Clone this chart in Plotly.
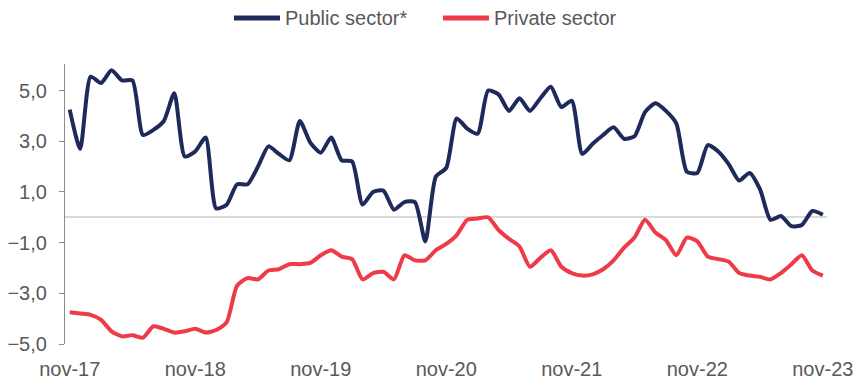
import plotly.graph_objects as go

# Monthly observations, nov-17 .. nov-23 (73 months)
month_index = list(range(73))
tick_positions = [0, 12, 24, 36, 48, 60, 72]
tick_labels = ["nov-17", "nov-18", "nov-19", "nov-20", "nov-21", "nov-22", "nov-23"]

public_sector = [
    4.25, 2.7, 5.55, 5.3, 5.8, 5.4, 5.4, 3.25, 3.45, 3.8,
    4.9, 2.4, 2.6, 3.15, 0.35, 0.5, 1.3, 1.3, 2.0, 2.8,
    2.5, 2.25, 3.8, 2.95, 2.55, 3.15, 2.25, 2.2, 0.5, 1.0,
    1.05, 0.3, 0.6, 0.6, -0.95, 1.6, 1.95, 3.9, 3.5, 3.3,
    5.0, 4.85, 4.2, 4.7, 4.2, 4.7, 5.15, 4.35, 4.6, 2.5,
    2.9, 3.25, 3.55, 3.1, 3.2, 4.15, 4.5, 4.2, 3.7, 1.8,
    1.75, 2.85, 2.6, 2.1, 1.45, 1.75, 1.1, -0.1, 0.05, -0.35,
    -0.3, 0.25, 0.1,
]

private_sector = [
    -3.75, -3.8, -3.85, -4.05, -4.5, -4.7, -4.65, -4.75, -4.3, -4.4,
    -4.55, -4.5, -4.4, -4.55, -4.45, -4.15, -2.7, -2.4, -2.45, -2.1,
    -2.05, -1.85, -1.85, -1.8, -1.5, -1.3, -1.55, -1.65, -2.45, -2.2,
    -2.15, -2.45, -1.5, -1.7, -1.7, -1.3, -1.05, -0.7, -0.1, -0.05,
    0.0, -0.5, -0.85, -1.15, -1.95, -1.6, -1.3, -1.95, -2.2, -2.3,
    -2.25, -2.05, -1.7, -1.2, -0.8, -0.1, -0.6, -0.9, -1.5, -0.8,
    -0.95, -1.55, -1.65, -1.75, -2.2, -2.3, -2.35, -2.45, -2.2, -1.85,
    -1.5, -2.1, -2.3,
]

series_names = ["Public sector*", "Private sector"]
y_ticks = [-5, -3, -1, 1, 3, 5]

NAVY = "#1F2A5C"
RED = "#EE3B47"
GREY_TEXT = "#595959"
FONT_SIZE = 20

W, H = 854, 379
M_L, M_R, M_T, M_B = 65, 27, 64, 35
PLOT_W = W - M_L - M_R
PLOT_H = H - M_T - M_B


def px_to_paper_x(px):
    return (px - M_L) / PLOT_W


def px_to_paper_y(py):
    return (H - M_B - py) / PLOT_H


fig = go.Figure()
for name, values, color in [(series_names[0], public_sector, NAVY),
                            (series_names[1], private_sector, RED)]:
    fig.add_trace(go.Scatter(
        x=month_index, y=values, name=name, mode="lines", showlegend=False,
        line=dict(color=color, width=4, shape="spline", smoothing=0.6),
    ))

# Legend drawn by hand above the plot: long line swatches followed by labels
legend_y = px_to_paper_y(18)
legend_items = [(series_names[0], NAVY, 234), (series_names[1], RED, 443)]
for name, color, start_px in legend_items:
    fig.add_shape(type="line", xref="paper", yref="paper",
                  x0=px_to_paper_x(start_px), x1=px_to_paper_x(start_px + 46),
                  y0=legend_y, y1=legend_y, line=dict(color=color, width=5))
    fig.add_annotation(xref="paper", yref="paper", x=px_to_paper_x(start_px + 49),
                       y=legend_y, text=name, showarrow=False,
                       xanchor="left", yanchor="middle",
                       font=dict(size=FONT_SIZE, color=GREY_TEXT))

fig.update_layout(
    width=W, height=H,
    margin=dict(l=M_L, r=M_R, t=M_T, b=M_B),
    paper_bgcolor="white", plot_bgcolor="white",
    separators=",.",
    font=dict(family="Liberation Sans, Arial, sans-serif", size=FONT_SIZE, color=GREY_TEXT),
    showlegend=False,
)

fig.update_xaxes(
    range=[-0.45, 72.4], tickmode="array", tickvals=tick_positions, ticktext=tick_labels,
    showgrid=False, zeroline=False, showline=False, ticks="", ticklabelstandoff=11,
    automargin=False, tickfont=dict(size=FONT_SIZE, color=GREY_TEXT),
)
fig.update_yaxes(
    range=[-5, 6.05], tickmode="array", tickvals=y_ticks, tickformat=".1f",
    showgrid=False, zeroline=True, zerolinecolor="#D9D9D9", zerolinewidth=1.5,
    showline=True, linecolor="#8C8C8C", linewidth=1.2,
    ticks="outside", ticklen=5, tickcolor="#8C8C8C", ticklabelstandoff=8,
    automargin=False, tickfont=dict(size=FONT_SIZE, color=GREY_TEXT),
)

fig.write_html("out.html")
